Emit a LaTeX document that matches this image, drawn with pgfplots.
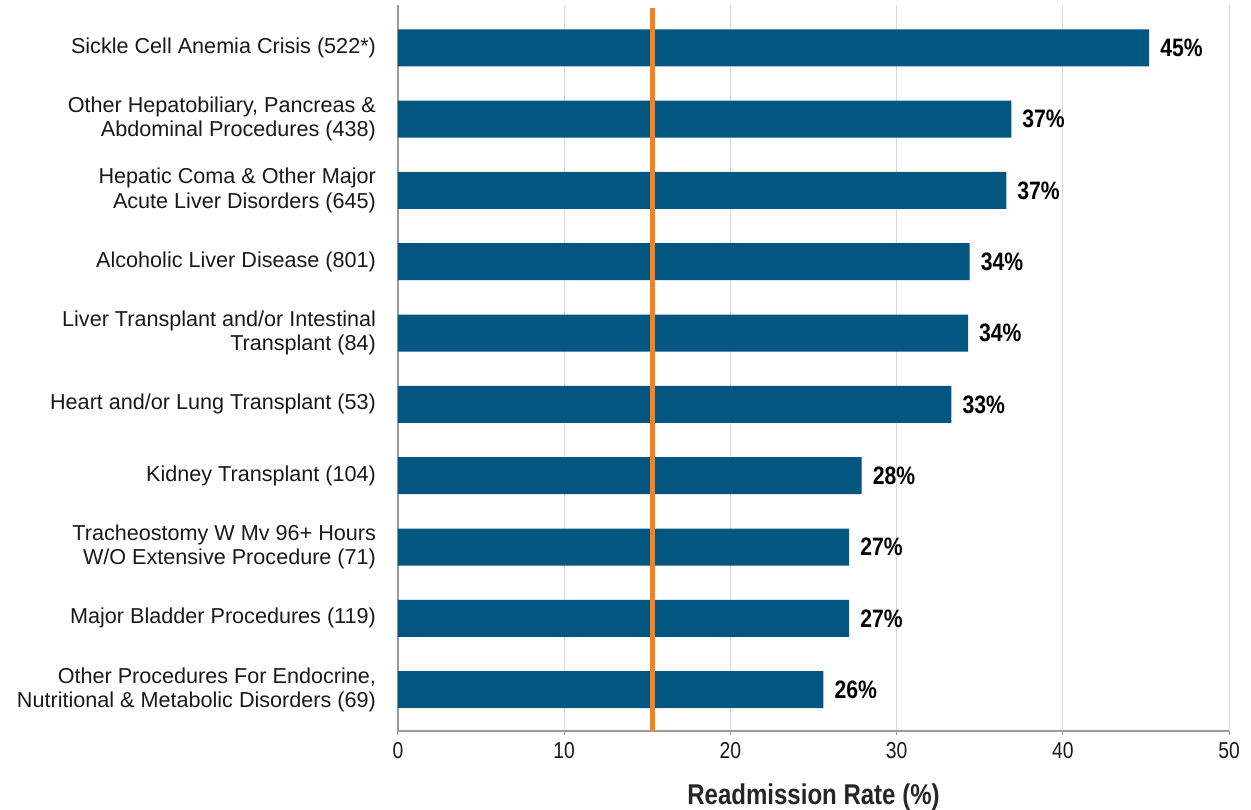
\documentclass[border=0pt]{standalone}
\usepackage{fontspec}
\setmainfont{Liberation Sans}
\newfontfamily\cond[FakeStretch=0.84]{Liberation Sans}
\usepackage{pgfplots}
\pgfplotsset{compat=1.18}
\definecolor{barblue}{HTML}{02567F}
\definecolor{refor}{HTML}{F5821F}
\definecolor{gridg}{HTML}{D9D9D9}
\definecolor{axg}{HTML}{9A9A9A}
\begin{document}
\begin{tikzpicture}
\path[use as bounding box] (-199pt,-39pt) rectangle (426.5pt,365.5pt);
\begin{axis}[
  at={(0,0)}, anchor=south west,
  scale only axis,
  width=415.5pt, height=363pt,
  xmin=0, xmax=50,
  ymin=-0.6, ymax=9.58,
  y dir=reverse,
  axis x line*=bottom, axis y line*=left,
  axis line style={axg, line width=0.6pt},
  xtick={0,10,20,30,40,50},
  xmajorgrids, grid style={gridg, line width=0.5pt},
  tick align=outside,
  major tick length=2pt,
  tick style={axg, line width=0.5pt},
  ytick={0,...,9},
  ytick style={draw=none},
  yticklabels={
    {Sickle Cell Anemia Crisis (522*)},
    {Other Hepatobiliary, Pancreas \&\\Abdominal Procedures (438)},
    {Hepatic Coma \& Other Major\\Acute Liver Disorders (645)},
    {Alcoholic Liver Disease (801)},
    {Liver Transplant and/or Intestinal\\Transplant (84)},
    {Heart and/or Lung Transplant (53)},
    {Kidney Transplant (104)},
    {Tracheostomy W Mv 96+ Hours\\W/O Extensive Procedure (71)},
    {Major Bladder Procedures (119)},
    {Other Procedures For Endocrine,\\Nutritional \& Metabolic Disorders (69)}
  },
  yticklabel style={font=\fontsize{10.8}{12.2}\selectfont, align=right, text=black!90, xshift=-5.5pt},
  xticklabel style={font=\cond\fontsize{11.5}{13}\selectfont, text=black!90},
  /pgf/number format/assume math mode=true,
  xlabel={Readmission Rate (\%)},
  xlabel style={font=\cond\bfseries\fontsize{14.3}{16}\selectfont, text=black!85, at={(axis description cs:0.5,0)}, anchor=base, yshift=-36.5pt},
  clip=false,
]
\addplot[xbar, bar width=18.5pt, draw=none, fill=barblue,
  point meta=explicit symbolic,
  nodes near coords,
  nodes near coords style={font=\cond\bfseries\fontsize{12.6}{14}\selectfont, text=black, anchor=west, xshift=2pt}]
  coordinates {
  (45.2,0) [45\%]
  (36.9,1) [37\%]
  (36.6,2) [37\%]
  (34.4,3) [34\%]
  (34.3,4) [34\%]
  (33.3,5) [33\%]
  (27.9,6) [28\%]
  (27.15,7) [27\%]
  (27.15,8) [27\%]
  (25.6,9) [26\%]
  };
\addplot[refor, line width=2.6pt] coordinates {(15.3,-0.56) (15.3,9.58)};
\end{axis}
\end{tikzpicture}
\end{document}
